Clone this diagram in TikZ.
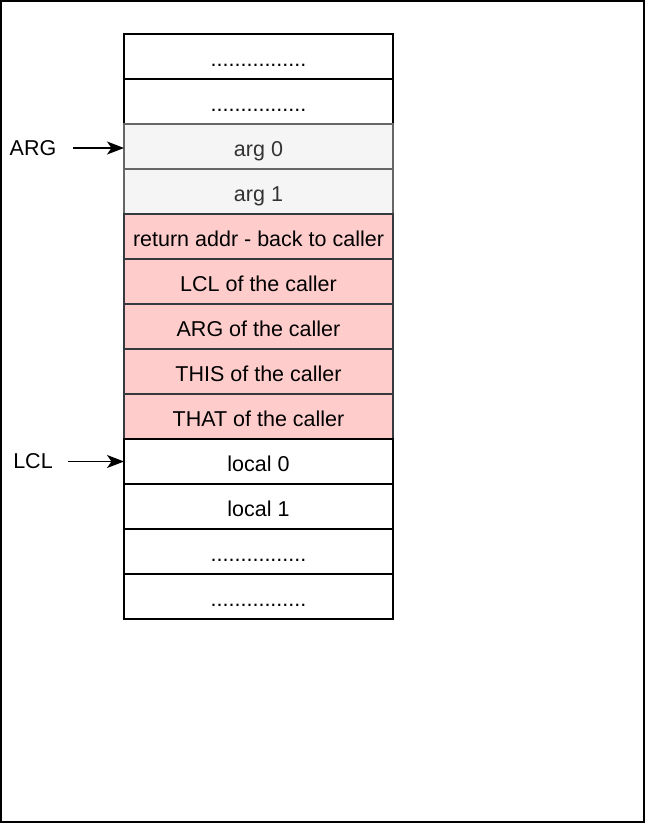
\documentclass[tikz,border=0pt]{standalone}
\usepackage{fontspec}
\setmainfont{Liberation Sans}
\usetikzlibrary{arrows.meta,positioning}
\definecolor{cellgray}{HTML}{F5F5F5}
\definecolor{cellgrayline}{HTML}{666666}
\definecolor{cellgraytext}{HTML}{333333}
\definecolor{cellpink}{HTML}{FFCCCC}
\definecolor{cellpinkline}{HTML}{36393D}
\tikzset{
    cell/.style={draw, line width=1.3pt, minimum width=269pt, minimum height=45pt, inner sep=0pt, outer sep=0pt, text height=19pt, text depth=0pt, font=\fontsize{21.5}{24}\selectfont},
    argcell/.style={cell, fill=cellgray, draw=cellgrayline, text=cellgraytext},
    framecell/.style={cell, fill=cellpink, draw=cellpinkline},
    pointer/.style={-{Stealth[length=17pt, width=13pt, inset=4.5pt]}, line width=1.4pt},
    regname/.style={font=\fontsize{21.5}{24}\selectfont}
}
\begin{document}
\begin{tikzpicture}[x=1pt, y=-1pt]
                \useasboundingbox (0,0) rectangle (646,823);
                \draw[line width=1.3pt] (1,1) rectangle (644,822);
                \node[cell] (dotsa) at (258.5,56.5) {................};
                \node[cell, below=0pt of dotsa] (dotsb) {................};
                \node[argcell, below=0pt of dotsb] (arg0) {arg 0};
                \node[argcell, below=0pt of arg0] (arg1) {arg 1};
                \node[framecell, below=0pt of arg1] (retaddr) {return addr - back to caller};
                \node[framecell, below=0pt of retaddr] (lclcaller) {LCL of the caller};
                \node[framecell, below=0pt of lclcaller] (argcaller) {ARG of the caller};
                \node[framecell, below=0pt of argcaller] (thiscaller) {THIS of the caller};
                \node[framecell, below=0pt of thiscaller] (thatcaller) {THAT of the caller};
                \node[cell, below=0pt of thatcaller] (local0) {local 0};
                \node[cell, below=0pt of local0] (local1) {local 1};
                \node[cell, below=0pt of local1] (dotsc) {................};
                \node[cell, below=0pt of dotsc] (dotsd) {................};
                \coordinate (argtip) at ([yshift=-1.5pt]arg0.west);
                \node[regname] (argreg) at (33,0 |- argtip) {ARG};
                \node[regname] (lclreg) at (33,0 |- local0.west) {LCL};
                \draw[pointer] ([xshift=13pt]argreg.east) -- (argtip);
                \draw[pointer] ([xshift=12pt]lclreg.east) -- (local0.west);
            \end{tikzpicture}
\end{document}
